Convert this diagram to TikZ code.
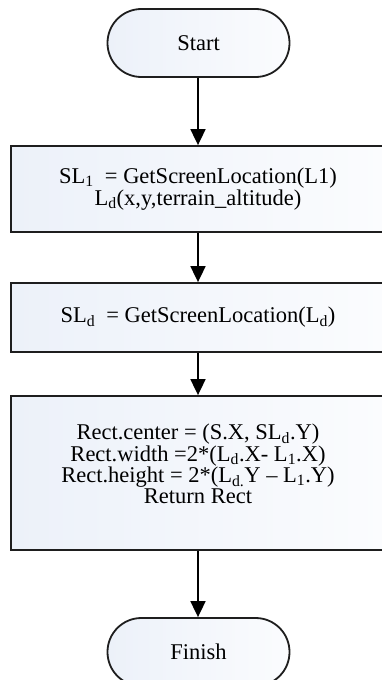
\documentclass[tikz,border=0pt]{standalone}
\usepackage{fontspec}
\setmainfont{Liberation Serif}
\usetikzlibrary{arrows.meta}
\definecolor{edge}{RGB}{30,30,30}
\definecolor{fillL}{RGB}{236,241,249}
\definecolor{fillR}{RGB}{251,252,254}
\tikzset{
  base/.style={draw=edge, line width=1.8pt, left color=fillL, right color=fillR,
    align=center, inner sep=0pt, font=\fontsize{22.5}{19}\selectfont},
  terminal/.style={base, minimum width=182pt, minimum height=68pt, rounded corners=33.9pt},
  procbox/.style={base, minimum width=374pt},
  flow/.style={draw=black, line width=1.8pt, -{Triangle[length=16pt,width=15pt]}}
}
\newcommand{\sub}[1]{\textsubscript{#1}}
\begin{document}
\begin{tikzpicture}[x=1pt,y=-1pt]
  \useasboundingbox (0,0) rectangle (382,680);
  \node[terminal] (start) at (198.5,43) {Start};
  \node[procbox, minimum height=86pt] (loc) at (198,189)
    {SL\sub{1}\ \ = GetScreenLocation(L1)\\L\sub{d}(x,y,terrain\_altitude)};
  \node[procbox, minimum height=69pt] (scr) at (198,317.5)
    {SL\sub{d}\ \ = GetScreenLocation(L\sub{d})};
  \node[procbox, minimum height=154pt] (rect) at (198,473)
    {Rect.center = (S.X, SL\sub{d}.Y)\\
     Rect.width =2*(L\sub{d}.X- L\sub{1}.X)\\
     Rect.height = 2*(L\sub{d.}Y -- L\sub{1}.Y)\\
     Return Rect\\ \mbox{}};
  \node[terminal] (finish) at (198.5,652) {Finish};
  \draw[flow] (start.south -| loc.north) -- (loc.north);
  \draw[flow] (loc) -- (scr);
  \draw[flow] (scr) -- (rect);
  \draw[flow] (rect.south) -- (finish.north -| rect.south);
\end{tikzpicture}
\end{document}
